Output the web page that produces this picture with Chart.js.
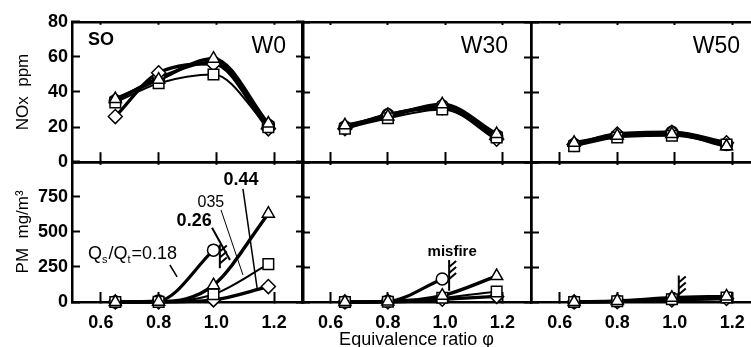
<!DOCTYPE html>
<html><head><meta charset="utf-8">
<script src="https://cdn.jsdelivr.net/npm/chart.js@4/dist/chart.umd.min.js"></script>
<style>
html,body{margin:0;padding:0;background:#fff;width:751px;height:347px;overflow:hidden;position:relative}
canvas{position:absolute}
</style></head><body>
<script>
// ---- data ----
const phi = [0.65, 0.8, 0.99, 1.18];              // equivalence ratio of the measured points
const ratioNames = ['0.18', '0.26', '0.35', '0.44']; // Qs/Qt of each series
const xTicks = [0.6, 0.8, 1.0, 1.2];
const noxTicks = [0, 20, 40, 60, 80];
const pmTicks = [0, 250, 500, 750, 1000];
const waterNames = ['W0', 'W30', 'W50'];

// NOx ppm, one row per Qs/Qt series (0.18, 0.26, 0.35, 0.44)
const noxW0  = [[35, 48, 57, 21], [36, 47, 59, 22], [34, 45, 50, 20], [26, 51, 56, 19]];
const noxW30 = [[20, 27, 32, 15], [21, 26, 33, 16], [19, 25, 30, 14], [19, 27, 31, 13]];
const noxW50 = [[10, 15, 17, 10], [11, 15, 16, 9], [9, 14, 15, 10], [10, 16, 17, 11]];
// PM mg/m3 (null = misfire)
const pmW0  = [[0, 8, 370, null], [0, 2, 120, 630], [0, 1, 55, 270], [0, 0, 15, 110]];
const pmW30 = [[0, 5, 165, null], [0, 3, 45, 185], [0, 2, 30, 75], [0, 1, 20, 40]];
const pmW50 = [[0, 5, 22, null], [0, 8, 30, 40], [0, 5, 20, 32], [0, 3, 15, 25]];

// misfire marks (phi, PM range) per panel
const misfireW0 = [1.012, 240, 410];
const misfireW30 = [1.014, 80, 300];
const misfireW50 = [1.014, 30, 190];

// ---- styling ----
const FONT = "'Liberation Sans', Arial, Helvetica, sans-serif";
Chart.defaults.font.family = FONT;
Chart.defaults.color = '#000';
Chart.defaults.animation = false;

const markers = ['circle', 'triangle', 'rect', 'rectRot'];
const markerR = [6, 7, 7.5, 7];
const markerOrder = [4, 1, 2, 3];
const lineW = [3.2, 3.4, 2, 3.4];

const cols = [{l: 72, r: 303}, {l: 302, r: 531}, {l: 531, r: 761}];
const rows = [{t: 22, b: 162}, {t: 162, b: 302}];

function textSub(ctx, parts, x, y) {
  parts.forEach(([t, sub]) => {
    ctx.font = sub ? '11px ' + FONT : '18px ' + FONT;
    ctx.fillText(t, x, sub ? y + 4 : y);
    x += ctx.measureText(t).width + (sub ? 1 : 0);
  });
}

const annot = {
  id: 'annot',
  afterDatasetsDraw(chart) {
    const p = chart.options.plugins.annot || {};
    const {ctx, chartArea: a, scales: {x, y}} = chart;
    ctx.save();
    ctx.fillStyle = '#000'; ctx.strokeStyle = '#000';
    if (p.title) {
      ctx.font = '23px ' + FONT; ctx.textAlign = 'right'; ctx.textBaseline = 'alphabetic';
      ctx.fillText(p.title, a.right - p.inset, a.top + 31);
    }
    if (p.so) {
      ctx.font = 'bold 18px ' + FONT; ctx.textAlign = 'left';
      ctx.fillText('SO', a.left + 16, a.top + 23);
    }
    if (p.misfire) {
      const [mx, y0, y1] = p.misfire;
      const px = x.getPixelForValue(mx), pt = y.getPixelForValue(y1), pb = y.getPixelForValue(y0);
      ctx.lineWidth = 2;
      ctx.beginPath();
      ctx.moveTo(px, pt); ctx.lineTo(px, pb);
      for (let k = 0; k < 3; k++) {
        const yy = pt + 1 + k * 6;
        ctx.moveTo(px, yy + 6); ctx.lineTo(px + 7, yy);
      }
      ctx.stroke();
      if (p.misfireText) {
        ctx.font = 'bold 15px ' + FONT; ctx.textAlign = 'center'; ctx.textBaseline = 'alphabetic';
        ctx.fillText('misfire', px + 3, pt - 4);
      }
    }
    if (p.ratios) {
      const X = v => x.getPixelForValue(v), Y = v => y.getPixelForValue(v);
      const leader = (x0, y0, x1, y1, w) => {
        ctx.lineWidth = w; ctx.beginPath(); ctx.moveTo(X(x0), Y(y0)); ctx.lineTo(X(x1), Y(y1)); ctx.stroke();
      };
      ctx.textAlign = 'left'; ctx.textBaseline = 'alphabetic';
      textSub(ctx, [['Q', 0], ['s', 1], ['/Q', 0], ['t', 1], ['=' + ratioNames[0], 0]], X(0.555), Y(310));
      leader(0.839, 264, 0.864, 179, 1.5);
      ctx.textAlign = 'center'; ctx.textBaseline = 'middle';
      ctx.font = 'bold 18px ' + FONT; ctx.fillText(ratioNames[1], X(0.923), Y(579));
      leader(0.985, 529, 1.047, 300, 2);
      ctx.font = '16px ' + FONT; ctx.fillText('035', X(0.981), Y(707));
      leader(1.016, 657, 1.092, 193, 1);
      ctx.font = 'bold 18px ' + FONT; ctx.fillText(ratioNames[3], X(1.085), Y(871));
      leader(1.092, 807, 1.141, 100, 1.5);
    }
    ctx.restore();
  }
};

function panelConfig(row, col, series, ann, yW, xH, pad) {
  const datasets = [];
  series.forEach((arr, i) => {
    const pts = phi.map((v, k) => ({x: v, y: arr[k]})).filter(pp => pp.y !== null);
    datasets.push({label: ratioNames[i], data: pts, order: 10, borderColor: '#000', borderWidth: lineW[i],
      pointRadius: 0, cubicInterpolationMode: 'monotone', fill: false, clip: false});
    datasets.push({label: ratioNames[i] + ' pts', data: pts, order: markerOrder[i], showLine: false, pointStyle: markers[i],
      pointRadius: markerR[i], pointBackgroundColor: '#fff', pointBorderColor: '#000', pointBorderWidth: 1.5, clip: false});
  });
  const yTicks = row === 0 ? noxTicks : pmTicks;
  const yMax = yTicks[yTicks.length - 1];
  const border = {display: true, color: '#000', width: 2.5};
  return {
    type: 'line',
    data: {datasets},
    plugins: [annot],
    options: {
      responsive: false,
      animation: false,
      layout: {padding: pad},
      plugins: {legend: {display: false}, tooltip: {enabled: false}, annot: ann},
      scales: {
        x: {
          type: 'linear', position: 'bottom', min: 0.5, max: 1.3,
          afterBuildTicks: s => { s.ticks = xTicks.map(v => ({value: v})); },
          afterFit: s => { s.height = xH; },
          ticks: {display: row === 1, padding: 20, font: {size: 18, weight: 'bold'}, color: '#000',
            callback: v => v.toFixed(1)},
          grid: {drawOnChartArea: false, drawTicks: true, tickLength: -10, tickWidth: 2, tickColor: '#000'},
          border,
          title: {display: row === 1 && col === 1, text: 'Equivalence ratio \u03C6', font: {size: 18},
            color: '#000', padding: {top: 0, bottom: 0}}
        },
        x2: {
          type: 'linear', position: 'top', min: 0.5, max: 1.3,
          afterBuildTicks: s => { s.ticks = xTicks.map(v => ({value: v})); },
          afterFit: s => { s.height = 0; },
          ticks: {display: false},
          grid: {drawOnChartArea: false, drawTicks: true, tickLength: -3, tickWidth: 2, tickColor: '#000'},
          border
        },
        y: {
          type: 'linear', position: 'left', min: 0, max: yMax,
          afterBuildTicks: s => { s.ticks = yTicks.map(v => ({value: v})); },
          afterFit: s => { s.width = yW; },
          ticks: {display: col === 0, padding: 12, font: {size: 18, weight: 'bold'}, color: '#000',
            callback: v => (v === 1000 ? '' : String(v))},
          grid: {drawOnChartArea: false, drawTicks: true, tickLength: -8, tickWidth: 2, tickColor: '#000'},
          border,
          title: {display: col === 0, text: row === 0 ? 'NOx  ppm' : 'PM  mg/m\u00B3', font: {size: 17},
            color: '#000', padding: {top: 13, bottom: 0}}
        },
        y2: {
          type: 'linear', position: 'right', min: 0, max: yMax,
          afterBuildTicks: s => { s.ticks = yTicks.map(v => ({value: v})); },
          afterFit: s => { s.width = 0; },
          ticks: {display: false},
          grid: {drawOnChartArea: false, drawTicks: true, tickLength: -7, tickWidth: 2, tickColor: '#000'},
          border
        }
      }
    }
  };
}

function makePanel(row, col, series, ann) {
  const c = cols[col], r = rows[row];
  const yW = col === 0 ? 72 : 0;
  const xH = row === 1 ? 49 : 0;
  const pad = {left: col === 0 ? 0 : 4, right: 4, top: 12, bottom: row === 0 ? 12 : 0};
  const cv = document.createElement('canvas');
  document.body.appendChild(cv);
  // start with an estimate, then fit the canvas so the plot area lands exactly on the panel box
  let mL = pad.left + yW, mT = pad.top, mR = pad.right, mB = pad.bottom + xH;
  let chart = null;
  for (let it = 0; it < 3; it++) {
    const W = Math.round(mL + (c.r - c.l) + mR), H = Math.round(mT + (r.b - r.t) + mB);
    if (chart) chart.destroy();
    cv.width = W; cv.height = H;
    cv.style.width = W + 'px'; cv.style.height = H + 'px';
    cv.style.left = Math.round(c.l - mL) + 'px';
    cv.style.top = Math.round(r.t - mT) + 'px';
    chart = new Chart(cv, panelConfig(row, col, series, ann, yW, xH, pad));
    const ca = chart.chartArea;
    const nL = ca.left, nT = ca.top, nR = W - ca.right, nB = H - ca.bottom;
    if (Math.abs(nL - mL) < 0.5 && Math.abs(nT - mT) < 0.5 && Math.abs(nR - mR) < 0.5 && Math.abs(nB - mB) < 0.5) break;
    mL = nL; mT = nT; mR = nR; mB = nB;
  }
}

makePanel(0, 0, noxW0, {title: waterNames[0], inset: 17, so: true});
makePanel(0, 1, noxW30, {title: waterNames[1], inset: 23});
makePanel(0, 2, noxW50, {title: waterNames[2], inset: 21});
makePanel(1, 0, pmW0, {misfire: misfireW0, ratios: true});
makePanel(1, 1, pmW30, {misfire: misfireW30, misfireText: true});
makePanel(1, 2, pmW50, {misfire: misfireW50});
</script>
</body></html>
